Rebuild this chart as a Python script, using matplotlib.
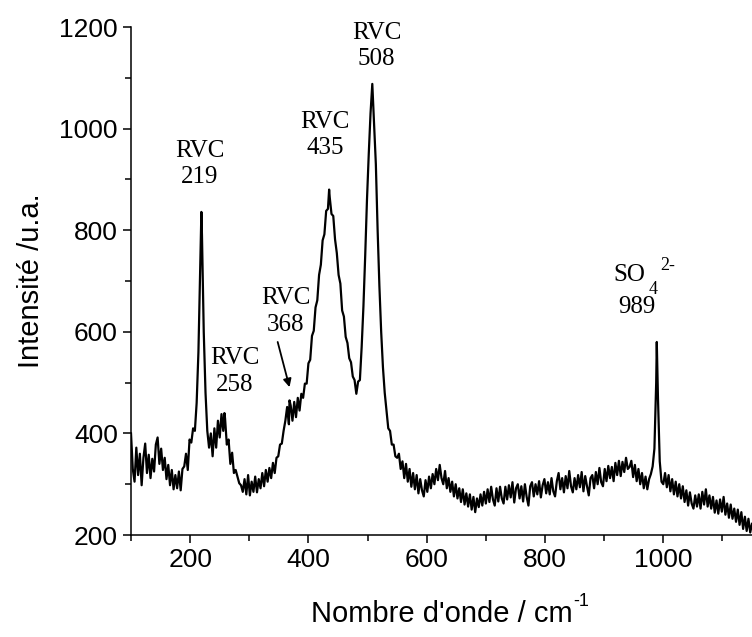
import numpy as np
import matplotlib
matplotlib.use("Agg")
import matplotlib.pyplot as plt
from matplotlib.ticker import MultipleLocator

# spectre Raman : grille reguliere tous les 3 cm-1, de 100 a 1150
nombre_onde = np.arange(100, 1151, 3)
intensite = [
    400, 330, 305, 372, 318, 360, 298, 352, 380, 322,   # 100
    358, 312, 350, 325, 378, 392, 340, 370, 328, 352,   # 130
    310, 338, 298, 328, 290, 318, 292, 325, 288, 330,   # 160
    335, 360, 328, 388, 382, 410, 405, 460, 560, 720,   # 190
    790, 600, 480, 405, 372, 400, 355, 410, 372, 425,   # 220
    392, 438, 405, 430, 378, 388, 340, 362, 322, 328,   # 250
    315, 302, 298, 285, 310, 280, 318, 278, 305, 285,   # 280
    315, 284, 310, 292, 322, 296, 328, 305, 332, 312,   # 310
    342, 322, 352, 355, 378, 380, 405, 425, 452, 418,   # 340
    455, 425, 462, 432, 470, 445, 478, 470, 498, 498,   # 370
    538, 545, 592, 602, 648, 662, 712, 732, 780, 792,   # 400
    838, 842, 865, 832, 828, 782, 755, 712, 695, 642,   # 430
    630, 590, 578, 548, 540, 512, 505, 478, 502, 505,   # 460
    570, 650, 750, 860, 950, 1030, 1088, 1010, 930, 800,  # 490
    690, 600, 530, 480, 445, 410, 405, 378, 378, 355,   # 520
    352, 360, 330, 345, 312, 340, 305, 330, 295, 322,   # 550
    290, 318, 282, 310, 288, 276, 308, 285, 315, 292,   # 580
    320, 300, 330, 308, 338, 312, 300, 326, 292, 312,   # 610
    285, 305, 276, 300, 272, 292, 265, 290, 260, 282,   # 640
    256, 280, 250, 275, 245, 272, 255, 280, 258, 285,   # 670
    262, 290, 265, 295, 270, 258, 292, 266, 295, 272,   # 700
    262, 295, 270, 298, 274, 304, 264, 292, 300, 272,   # 730
    296, 266, 300, 275, 258, 296, 304, 276, 300, 280,   # 760
    306, 274, 298, 310, 282, 304, 280, 312, 286, 276,   # 790
    306, 322, 290, 312, 284, 316, 292, 326, 296, 284,   # 820
    312, 290, 318, 294, 324, 286, 316, 296, 278, 312,   # 850
    318, 292, 324, 300, 332, 304, 296, 330, 306, 336,   # 880
    312, 334, 306, 342, 318, 346, 316, 344, 324, 352,   # 910
    330, 334, 346, 314, 338, 306, 330, 300, 322, 292,   # 940
    315, 290, 310, 320, 335, 370, 500, 470, 345, 305,   # 970
    300, 322, 294, 318, 286, 310, 280, 305, 276, 300,   # 1000
    272, 296, 265, 288, 258, 284, 262, 252, 278, 256,   # 1030
    280, 252, 285, 260, 290, 256, 278, 252, 275, 244,   # 1060
    268, 242, 270, 246, 275, 240, 262, 234, 260, 232,   # 1090
    252, 226, 250, 220, 245, 212, 236, 208, 232, 205,   # 1120
    222,                                                # 1150
]

# sommets des bandes (cm-1, intensite)
pics_nombre = [219, 258, 368, 435, 508, 989]
pics_intensite = [836, 440, 465, 880, 1088, 580]

spectre = dict(zip(nombre_onde.tolist(), intensite))
spectre.update(zip(pics_nombre, pics_intensite))
x = np.array(sorted(spectre))
y = np.array([spectre[k] for k in x])

plt.rcParams['font.family'] = ['Liberation Sans', 'DejaVu Sans']

fig = plt.figure(figsize=(7.52, 6.37), dpi=100)
ax = fig.add_axes([0.1742, 0.1601, 0.8258, 0.7975])

ax.plot(x, y, color='black', lw=1.6)

ax.set_xlim(100, 1150)
ax.set_ylim(200, 1200)
ax.xaxis.set_major_locator(MultipleLocator(200))
ax.xaxis.set_minor_locator(MultipleLocator(100))
ax.yaxis.set_major_locator(MultipleLocator(200))
ax.yaxis.set_minor_locator(MultipleLocator(100))
ax.spines['top'].set_visible(False)
ax.spines['right'].set_visible(False)
for s in ('left', 'bottom'):
    ax.spines[s].set_linewidth(1.1)
ax.tick_params(which='major', direction='out', length=6, width=1.1, labelsize=19)
ax.tick_params(which='minor', direction='out', length=4, width=1.1)

xl = ax.set_xlabel("Nombre d'onde / cm", fontsize=21, labelpad=20)
ax.set_ylabel("Intensité /u.a.", fontsize=21, labelpad=10)

serif = ['Liberation Serif', 'DejaVu Serif']
etiquettes = [
    ("RVC\n219", 216, 931),
    ("RVC\n258", 275, 522),
    ("RVC\n368", 362, 640),
    ("RVC\n435", 428, 988),
    ("RVC\n508", 515, 1162),
]
for txt, tx, ty in etiquettes:
    ax.text(tx, ty, txt, ha='center', va='center', fontsize=18,
            family=serif, linespacing=1.25, clip_on=False)

# SO4 2- avec indice et exposant places a la main
ax.text(942, 711, "SO", ha='center', va='center', fontsize=18, family=serif)
ax.text(982, 684, "4", ha='center', va='center', fontsize=13, family=serif)
ax.text(1008, 731, "2-", ha='center', va='center', fontsize=13, family=serif)
ax.text(956, 648, "989", ha='center', va='center', fontsize=18, family=serif)

# fleche vers l'epaulement a 368
ax.annotate("", xy=(368, 491), xytext=(348, 580),
            arrowprops=dict(arrowstyle='-|>', color='black', lw=1.3,
                            mutation_scale=12, shrinkA=0, shrinkB=0))

# exposant -1 de l'unite, colle apres le titre de l'axe
fig.canvas.draw()
bb = xl.get_window_extent()
fig.text((bb.x1 + 1) / fig.bbox.width, (bb.y1 - 10) / fig.bbox.height, "-1",
         fontsize=13, ha='left', va='bottom')

fig.savefig("out.png", dpi=100)
